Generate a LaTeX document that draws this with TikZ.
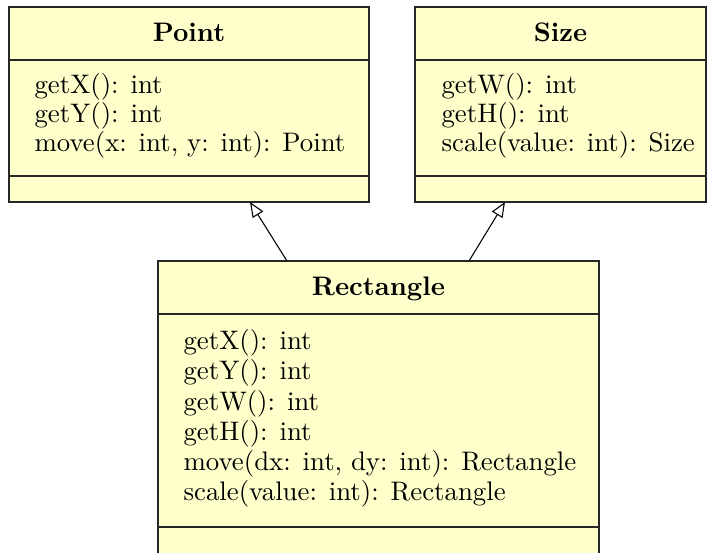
\documentclass[tikz,border=0pt]{standalone}
\usepackage{fontspec}
\usetikzlibrary{arrows.meta,calc}
\definecolor{umlfill}{RGB}{255,255,204}
\begin{document}
\begin{tikzpicture}[x=0.3731pt,y=-0.3731pt,
  umlbox/.style={draw=black!85, line width=0.45pt, fill=umlfill, anchor=north west, inner sep=0pt, outer sep=0pt},
  ttl/.style={font=\fontsize{10}{11}\selectfont\bfseries, anchor=base, inner sep=0pt},
  ops/.style={font=\fontsize{10}{10.85}\selectfont, align=left, anchor=north west, inner sep=0pt},
  opsbig/.style={ops, font=\fontsize{10}{11.3}\selectfont},
  sepline/.style={draw=black!85, line width=0.5pt},
  inh/.style={line width=0.4pt, -{Triangle[open, length=5.6pt, width=4.6pt]}}]
\useasboundingbox (0,0) rectangle (707,552);
\clip (0,0) rectangle (707,552);

% Point
\node[umlbox, minimum width=360*0.3731pt, minimum height=195*0.3731pt] (point) at (9,7) {};
\draw[sepline] ($(point.north west)+(0,53)$) -- ($(point.north east)+(0,53)$);
\draw[sepline] ($(point.north west)+(0,169)$) -- ($(point.north east)+(0,169)$);
\node[ttl] (pointT) at ($(point.north)+(0,34)$) {Point};
\node[ops] (pointO) at ($(point.north west)+(25,65.4)$) {getX(): int\\getY(): int\\move(x: int, y: int): Point};

% Size
\node[umlbox, minimum width=291*0.3731pt, minimum height=195*0.3731pt] (size) at (415,7) {};
\draw[sepline] ($(size.north west)+(0,53)$) -- ($(size.north east)+(0,53)$);
\draw[sepline] ($(size.north west)+(0,169)$) -- ($(size.north east)+(0,169)$);
\node[ttl] (sizeT) at ($(size.north)+(0,34)$) {Size};
\node[ops] (sizeO) at ($(size.north west)+(26,65.4)$) {getW(): int\\getH(): int\\scale(value: int): Size};

% Rectangle
\node[umlbox, minimum width=441*0.3731pt, minimum height=340*0.3731pt] (rect) at (158,261) {};
\draw[sepline] ($(rect.north west)+(0,53)$) -- ($(rect.north east)+(0,53)$);
\draw[sepline] ($(rect.north west)+(0,266)$) -- ($(rect.north east)+(0,266)$);
\node[ttl] (rectT) at ($(rect.north)+(0,34)$) {Rectangle};
\node[opsbig] (rectO) at ($(rect.north west)+(25,67.9)$) {getX(): int\\getY(): int\\getW(): int\\getH(): int\\move(dx: int, dy: int): Rectangle\\scale(value: int): Rectangle};

% Inheritance
\draw[inh] ($(rect.north)+(-91.5,0)$) -- ($(point.south)+(61,0)$);
\draw[inh] ($(rect.north)+(90.5,0)$) -- ($(size.south)+(-55.5,0)$);
\end{tikzpicture}
\end{document}
